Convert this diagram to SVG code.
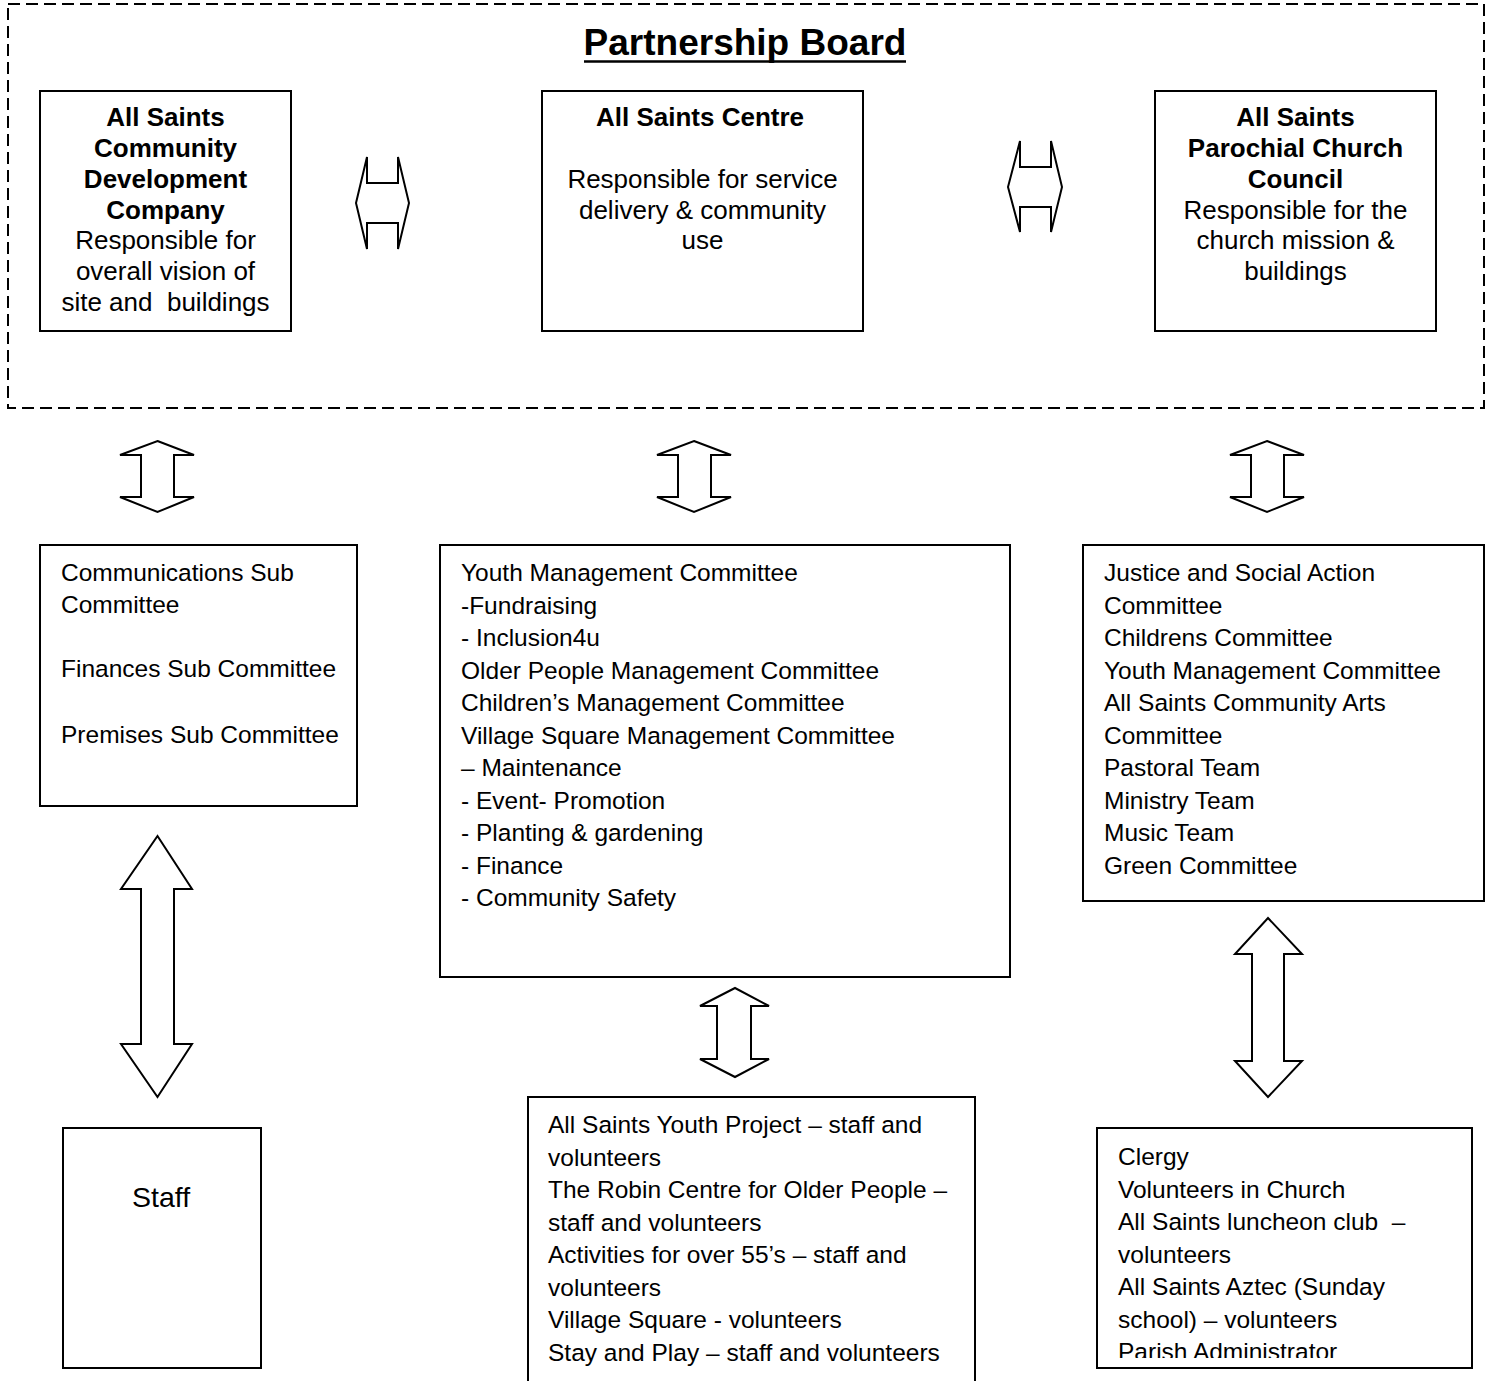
<svg xmlns="http://www.w3.org/2000/svg" width="1494" height="1381" viewBox="0 0 1494 1381">
<style>
.box{fill:#fff;stroke:#000;stroke-width:2}
.arr{fill:#fff;stroke:#000;stroke-width:2;stroke-linejoin:miter}
.hb{font-family:"Liberation Sans",Arial,sans-serif;font-weight:bold;font-size:26px;fill:#000;text-anchor:middle}
.hn{font-family:"Liberation Sans",Arial,sans-serif;font-size:26px;fill:#000;text-anchor:middle}
.bt{font-family:"Liberation Sans",Arial,sans-serif;font-size:24.5px;fill:#000}
.big{font-size:28.5px}
</style>
<defs>
<clipPath id="clipR"><rect x="1098" y="1129" width="373" height="229"/></clipPath>
</defs>
<rect x="0" y="0" width="1494" height="1381" fill="#fff"/>
<g id="partnership-board">
<rect x="8" y="4" width="1476" height="404" fill="none" stroke="#000" stroke-width="2" stroke-dasharray="12 6"/>
<text x="745" y="55" font-family="Liberation Sans,Arial,sans-serif" font-weight="bold" font-size="37" text-anchor="middle">Partnership Board</text>
<line x1="584" y1="61.5" x2="906" y2="61.5" stroke="#000" stroke-width="2.5"/>
</g>
<g id="company">
<rect class="box" x="40" y="91" width="251" height="240"/>
<text class="hb" x="165.5" y="126">All Saints</text>
<text class="hb" x="165.5" y="157">Community</text>
<text class="hb" x="165.5" y="188">Development</text>
<text class="hb" x="165.5" y="219">Company</text>
<text class="hn" x="165.5" y="249">Responsible for</text>
<text class="hn" x="165.5" y="280">overall vision of</text>
<text class="hn" x="165.5" y="311" xml:space="preserve">site and  buildings</text>
</g>
<g id="centre">
<rect class="box" x="542" y="91" width="321" height="240"/>
<text class="hb" x="700" y="126">All Saints Centre</text>
<text class="hn" x="702.5" y="188">Responsible for service</text>
<text class="hn" x="702.5" y="219">delivery &amp; community</text>
<text class="hn" x="702.5" y="249">use</text>
</g>
<g id="pcc">
<rect class="box" x="1155" y="91" width="281" height="240"/>
<text class="hb" x="1295.5" y="126">All Saints</text>
<text class="hb" x="1295.5" y="157">Parochial Church</text>
<text class="hb" x="1295.5" y="188">Council</text>
<text class="hn" x="1295.5" y="219">Responsible for the</text>
<text class="hn" x="1295.5" y="249">church mission &amp;</text>
<text class="hn" x="1295.5" y="280">buildings</text>
</g>
<g id="subcommittees">
<rect class="box" x="40" y="545" width="317" height="261"/>
<text class="bt" x="61" y="581">Communications Sub</text>
<text class="bt" x="61" y="613">Committee</text>
<text class="bt" x="61" y="677">Finances Sub Committee</text>
<text class="bt" x="61" y="742.5">Premises Sub Committee</text>
</g>
<g id="centre-committees">
<rect class="box" x="440" y="545" width="570" height="432"/>
<text class="bt" x="461" y="581">Youth Management Committee</text>
<text class="bt" x="461" y="613.5">-Fundraising</text>
<text class="bt" x="461" y="646">- Inclusion4u</text>
<text class="bt" x="461" y="678.5">Older People Management Committee</text>
<text class="bt" x="461" y="711">Children’s Management Committee</text>
<text class="bt" x="461" y="743.5">Village Square Management Committee</text>
<text class="bt" x="461" y="776">– Maintenance</text>
<text class="bt" x="461" y="808.5">- Event- Promotion</text>
<text class="bt" x="461" y="841">- Planting &amp; gardening</text>
<text class="bt" x="461" y="873.5">- Finance</text>
<text class="bt" x="461" y="906">- Community Safety</text>
</g>
<g id="church-committees">
<rect class="box" x="1083" y="545" width="401" height="356"/>
<text class="bt" x="1104" y="581">Justice and Social Action</text>
<text class="bt" x="1104" y="613.5">Committee</text>
<text class="bt" x="1104" y="646">Childrens Committee</text>
<text class="bt" x="1104" y="678.5">Youth Management Committee</text>
<text class="bt" x="1104" y="711">All Saints Community Arts</text>
<text class="bt" x="1104" y="743.5">Committee</text>
<text class="bt" x="1104" y="776">Pastoral Team</text>
<text class="bt" x="1104" y="808.5">Ministry Team</text>
<text class="bt" x="1104" y="841">Music Team</text>
<text class="bt" x="1104" y="873.5">Green Committee</text>
</g>
<g id="staff">
<rect class="box" x="63" y="1128" width="198" height="240"/>
<text class="bt big" x="132" y="1207">Staff</text>
</g>
<g id="projects">
<rect class="box" x="528" y="1097" width="447" height="300"/>
<text class="bt" x="548" y="1133">All Saints Youth Project – staff and</text>
<text class="bt" x="548" y="1165.5">volunteers</text>
<text class="bt" x="548" y="1198">The Robin Centre for Older People –</text>
<text class="bt" x="548" y="1230.5">staff and volunteers</text>
<text class="bt" x="548" y="1263">Activities for over 55’s – staff and</text>
<text class="bt" x="548" y="1295.5">volunteers</text>
<text class="bt" x="548" y="1328">Village Square - volunteers</text>
<text class="bt" x="548" y="1360.5">Stay and Play – staff and volunteers</text>
</g>
<g id="church-people">
<rect class="box" x="1097" y="1128" width="375" height="240"/>
<g clip-path="url(#clipR)">
<text class="bt" x="1118" y="1165">Clergy</text>
<text class="bt" x="1118" y="1197.5">Volunteers in Church</text>
<text class="bt" x="1118" y="1230" xml:space="preserve">All Saints luncheon club  –</text>
<text class="bt" x="1118" y="1262.5">volunteers</text>
<text class="bt" x="1118" y="1295">All Saints Aztec (Sunday</text>
<text class="bt" x="1118" y="1327.5">school) – volunteers</text>
<text class="bt" x="1118" y="1360">Parish Administrator</text>
</g>
</g>
<g id="connectors">
<polygon class="arr" points="356,203 367,157 367,183 398,183 398,157 409,203 398,249 398,223 367,223 367,249"/>
<polygon class="arr" points="1008,187 1020,141 1020,167 1051,167 1051,141 1062,187 1051,232 1051,207 1020,207 1020,232"/>
<polygon class="arr" points="157.5,441 194,455 174,455 174,497 194,497 157.5,512 120,497 141,497 141,455 120,455"/>
<polygon class="arr" points="694,441 731,455 711,455 711,497 731,497 694,512 657,497 678,497 678,455 657,455"/>
<polygon class="arr" points="1267,441 1304,455 1284,455 1284,497 1304,497 1267,512 1230,497 1251,497 1251,455 1230,455"/>
<polygon class="arr" points="157.5,836 192,889 174,889 174,1044 192,1044 157.5,1097 121,1044 141,1044 141,889 121,889"/>
<polygon class="arr" points="735,988 769,1006 751,1006 751,1059 769,1059 735,1077 700,1059 717,1059 717,1006 700,1006"/>
<polygon class="arr" points="1268,918 1302,954 1284,954 1284,1061 1302,1061 1268,1097 1235,1061 1252,1061 1252,954 1235,954"/>
</g>
</svg>
